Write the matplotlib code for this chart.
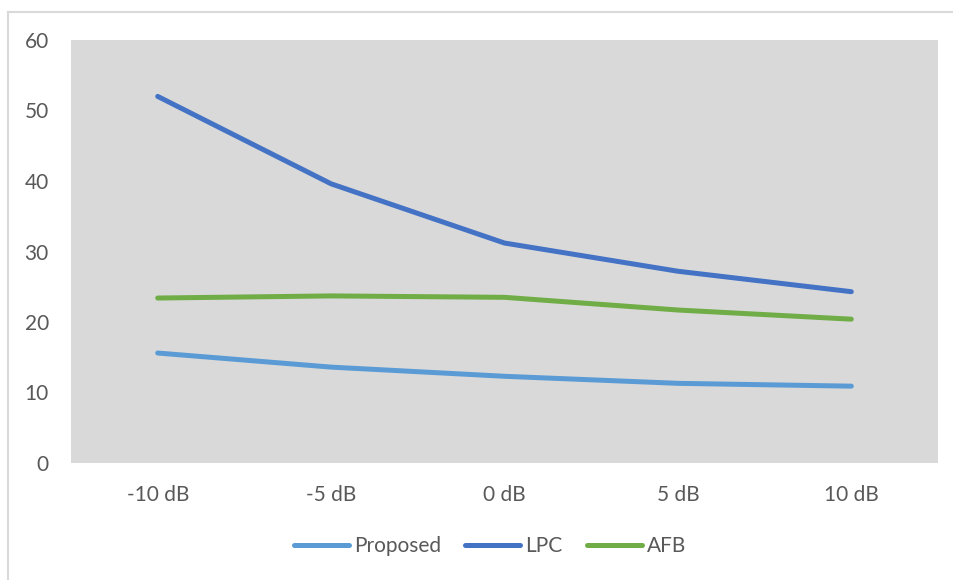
import matplotlib.pyplot as plt
from matplotlib.lines import Line2D

plt.rcParams['font.family'] = ['Lato', 'DejaVu Sans']

# SNR conditions and error values per method
snr_labels = ['-10 dB', '-5 dB', '0 dB', '5 dB', '10 dB']
proposed = [15.6, 13.6, 12.3, 11.3, 10.9]
lpc = [52.0, 39.6, 31.2, 27.2, 24.3]
afb = [23.4, 23.7, 23.5, 21.7, 20.4]

series = [
    ('Proposed', proposed, '#5B9BD5'),
    ('LPC', lpc, '#4472C4'),
    ('AFB', afb, '#70AD47'),
]

text_color = '#595959'
fs = 15

fig = plt.figure(figsize=(9.54, 5.8), dpi=100)
ax = fig.add_axes([71 / 954, 117 / 580, 867 / 954, 423 / 580])
ax.set_facecolor('#D9D9D9')

x = range(len(snr_labels))
for name, vals, color in series:
    ax.plot(x, vals, color=color, lw=3.6, solid_capstyle='round',
            solid_joinstyle='round', label=name)

ax.set_xlim(-0.5, len(snr_labels) - 0.5)
ax.set_ylim(0, 60)
ax.set_yticks(range(0, 61, 10))
ax.set_xticks(list(x))
ax.set_xticklabels(snr_labels)
ax.tick_params(axis='both', length=0, labelsize=fs, labelcolor=text_color)
ax.tick_params(axis='y', pad=16)
ax.tick_params(axis='x', pad=16)
for s in ax.spines.values():
    s.set_visible(False)

# light chart-area frame
fig.add_artist(Line2D([8 / 954, 8 / 954], [0, 1 - 12 / 580], color='#D9D9D9',
                      lw=1.5, transform=fig.transFigure))
fig.add_artist(Line2D([8 / 954, 1], [1 - 12 / 580, 1 - 12 / 580], color='#D9D9D9',
                      lw=1.5, transform=fig.transFigure))

leg = fig.legend(loc='center', bbox_to_anchor=(490 / 954, 1 - 546 / 580), ncol=3,
                 frameon=False, fontsize=fs, handlelength=2.65,
                 handletextpad=0.25, columnspacing=1.15)
for t in leg.get_texts():
    t.set_color(text_color)
for h in leg.get_lines():
    h.set_solid_capstyle('round')

fig.savefig('out.png', dpi=100)
